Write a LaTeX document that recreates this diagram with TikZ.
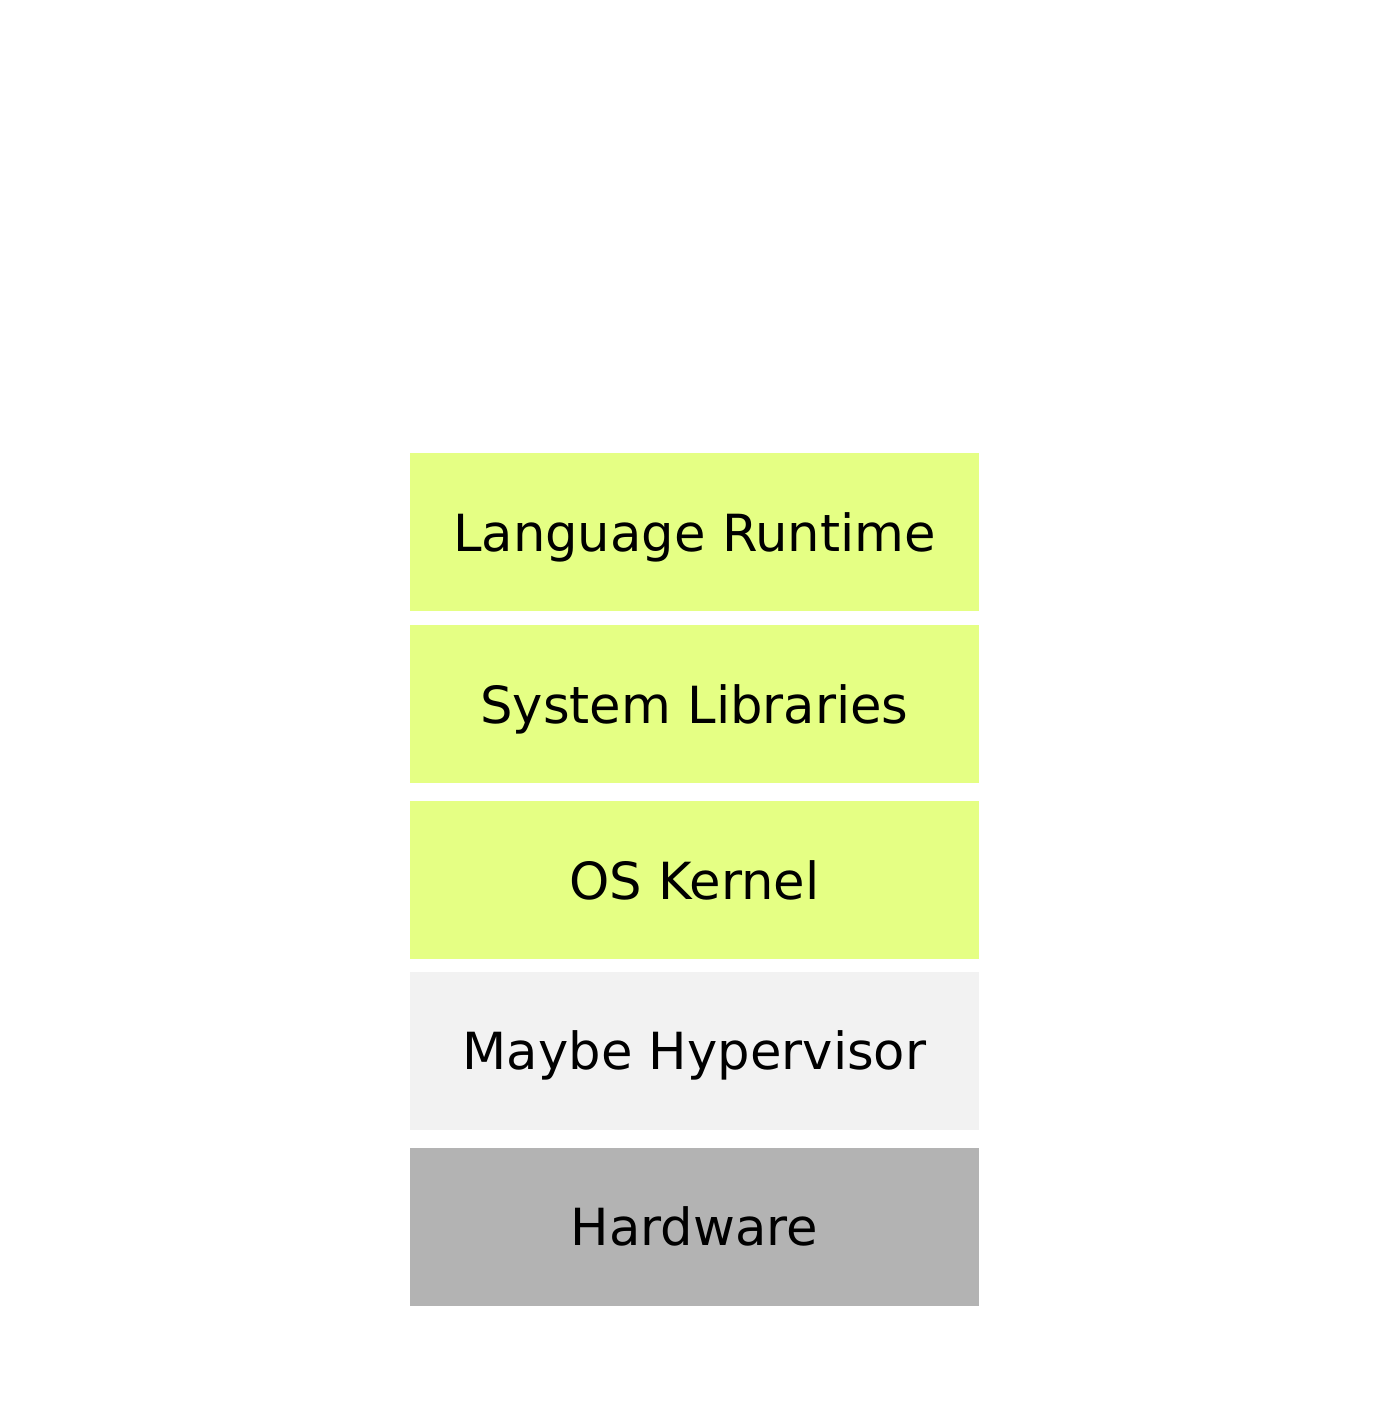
\documentclass[tikz,border=0pt]{standalone}
\usepackage{fontspec}
\setmainfont{DejaVu Sans}
\usetikzlibrary{positioning}
\definecolor{layergreen}{HTML}{E5FF84}
\definecolor{layerlight}{HTML}{F2F2F2}
\definecolor{layergray}{HTML}{B3B3B3}

\begin{document}
\begin{tikzpicture}[x=0.5pt, y=-0.5pt,
			layer/.style={rectangle, minimum width=284.5pt, minimum height=79pt, inner sep=0pt, text depth=0pt, font=\fontsize{25.6}{31}\selectfont},
			every text node part/.style={align=center}]
			\useasboundingbox (0, 0) rectangle (1400, 1407);
			\node[layer, fill=layergreen](runtime) at (694.5, 532) {Language Runtime};
			
			\node[layer, fill=layergreen](libs) at (694.5, 704) {System Libraries};
			
			\node[layer, fill=layergreen](kernel) at (694.5, 880) {OS Kernel};
			
			\node[layer, fill=layerlight](hyper) at (694.5, 1050.5) {Maybe Hypervisor};
			
			\node[layer, fill=layergray](hw) at (694.5, 1226.5) {Hardware};
			\end{tikzpicture}
\end{document}
